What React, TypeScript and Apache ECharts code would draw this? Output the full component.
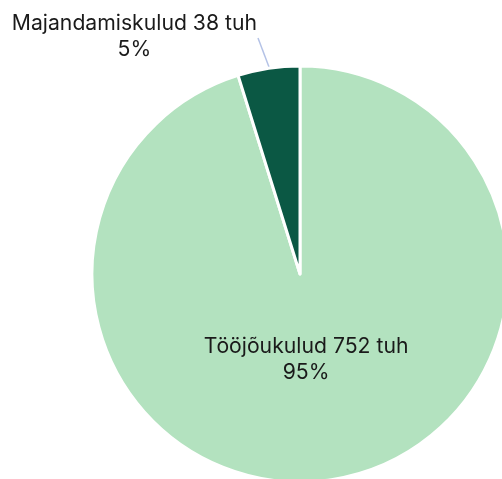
import React, { useEffect, useRef } from "react";
import * as echarts from "echarts";

const categories = ["Tööjõukulud", "Majandamiskulud"];
const values = [752, 38];
const colors = ["#b3e2bf", "#0b5844"];

export default function App() {
  const ref = useRef<HTMLDivElement>(null);
  useEffect(() => {
    if (!ref.current) return;
    const chart = echarts.init(ref.current, null, { renderer: "svg" });
    const total = values.reduce((a, b) => a + b, 0);
    chart.setOption({
      animation: false,
      textStyle: { fontFamily: "Inter" },
      series: [
        {
          type: "pie",
          center: [300, 274],
          radius: 208,
          startAngle: 90,
          clockwise: true,
          data: categories.map((c, i) => ({
            name: c,
            value: values[i],
            itemStyle: { color: colors[i], borderColor: "#ffffff", borderWidth: 3 },
            label:
              i === 0
                ? { position: "inside" }
                : { position: "outside" },
          })),
          label: {
            fontFamily: "Inter",
            fontSize: 21.2,
            color: "#1a1a1a",
            lineHeight: 26,
            formatter: (p: any) =>
              `{a|${p.name} ${p.value} tuh}\n{a|${Math.round((p.value / total) * 100)}%}`,
            rich: {
              a: { fontFamily: "Inter", fontSize: 21.2, color: "#1a1a1a", lineHeight: 26, align: "center" },
            },
          },
          labelLine: {
            show: true,
            length: 30,
            length2: 0,
            lineStyle: { color: "#b4c2e6", width: 1.5 },
          },
          labelLayout: (p: any) => {
            if (p.dataIndex === 0) return { dx: -10, dy: -22 };
            return {
              x: 257,
              y: 35,
              align: "right",
              verticalAlign: "middle",
              labelLinePoints: [
                [269, 67],
                [258, 38],
                [258, 38],
              ],
            };
          },
        },
      ],
    });
    return () => chart.dispose();
  }, []);
  return (
    <div
      ref={ref}
      style={{ position: "fixed", left: 0, top: 0, width: 502, height: 479 }}
    />
  );
}
